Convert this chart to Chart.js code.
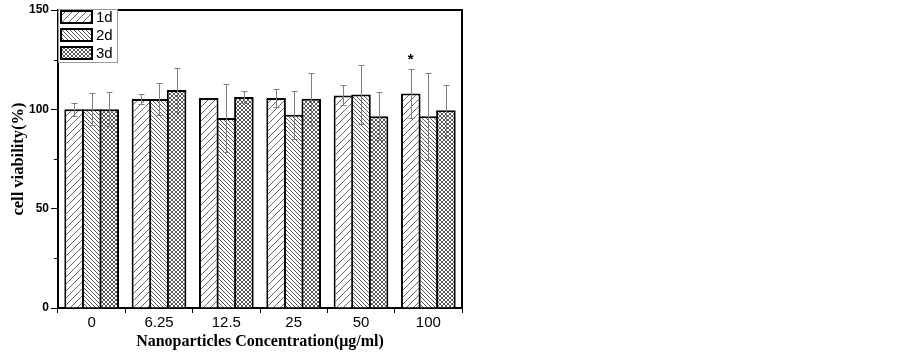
<!DOCTYPE html>
<html><head><meta charset="utf-8">
<script src="https://cdn.jsdelivr.net/npm/chart.js@4/dist/chart.umd.min.js"></script>
<style>html,body{margin:0;padding:0;background:#fff}#wrap{width:903px;height:353px;position:relative}</style>
</head><body><div id="wrap"><canvas id="c"></canvas></div>
<script>
const categories = ['0', '6.25', '12.5', '25', '50', '100'];
const seriesNames = ['1d', '2d', '3d'];
const day1 = [100, 105.2, 105.7, 105.7, 107, 108];
const day2 = [100, 105.2, 95.6, 97.3, 107.5, 96.5];
const day3 = [100, 109.7, 106.2, 105.3, 96.5, 99.5];
const err1 = [3.4, 2.7, 0, 4.5, 5, 12.4];
const err2 = [8, 8, 17, 12, 15, 22];
const err3 = [8.5, 11, 3, 13, 12, 13];
const yTickLabels = [0, 50, 100, 150];
const starMarks = [{ series: 0, index: 5, text: '*' }];

function makePattern(kind) {
  const s = kind === 'fwd' ? 7 : 4;
  const c = document.createElement('canvas');
  c.width = s; c.height = s;
  const g = c.getContext('2d');
  g.fillStyle = '#fff'; g.fillRect(0, 0, s, s);
  g.strokeStyle = kind === 'fwd' ? '#666' : '#555';
  g.lineWidth = 1;
  const fwd = () => { g.beginPath(); g.moveTo(-1, s + 1); g.lineTo(s + 1, -1); g.moveTo(-1, 1); g.lineTo(1, -1); g.moveTo(s - 1, s + 1); g.lineTo(s + 1, s - 1); g.stroke(); };
  const back = () => { g.beginPath(); g.moveTo(-1, -1); g.lineTo(s + 1, s + 1); g.moveTo(s - 1, -1); g.lineTo(s + 1, 1); g.moveTo(-1, s - 1); g.lineTo(1, s + 1); g.stroke(); };
  if (kind === 'fwd') fwd();
  else if (kind === 'back') back();
  else { fwd(); back(); }
  return c.getContext('2d').createPattern(c, 'repeat');
}
const patterns = [makePattern('fwd'), makePattern('back'), makePattern('cross')];
const values = [day1, day2, day3];
const errors = [err1, err2, err3];

const errorBarPlugin = {
  id: 'errbars',
  afterDatasetsDraw(chart) {
    const ctx = chart.ctx, y = chart.scales.y;
    ctx.save();
    ctx.strokeStyle = '#808080'; ctx.lineWidth = 1;
    values.forEach((vals, di) => {
      const meta = chart.getDatasetMeta(di);
      meta.data.forEach((bar, i) => {
        const e = errors[di][i];
        if (!e) return;
        const x = Math.round(bar.x) + 0.5;
        const yt = Math.round(y.getPixelForValue(vals[i] + e)) + 0.5;
        const yb = Math.round(y.getPixelForValue(vals[i] - e)) + 0.5;
        ctx.beginPath();
        ctx.moveTo(x, yt); ctx.lineTo(x, yb);
        ctx.moveTo(x - 3, yt); ctx.lineTo(x + 3, yt);
        ctx.moveTo(x - 3, yb); ctx.lineTo(x + 3, yb);
        ctx.stroke();
      });
    });
    ctx.fillStyle = '#000';
    ctx.font = 'bold 15px "Liberation Sans", Arial';
    ctx.textAlign = 'center'; ctx.textBaseline = 'bottom';
    starMarks.forEach(m => {
      const bar = chart.getDatasetMeta(m.series).data[m.index];
      const yt = y.getPixelForValue(values[m.series][m.index] + errors[m.series][m.index]);
      ctx.fillText(m.text, bar.x, yt - 1);
    });
    ctx.restore();
  }
};

const framePlugin = {
  id: 'frame',
  afterDraw(chart) {
    const { ctx, chartArea: a } = chart;
    const y = chart.scales.y;
    ctx.save();
    ctx.strokeStyle = '#000'; ctx.lineWidth = 2;
    ctx.beginPath();
    ctx.moveTo(a.left, a.top); ctx.lineTo(a.right, a.top); ctx.lineTo(a.right, a.bottom);
    ctx.stroke();
    ctx.lineWidth = 1;
    y.ticks.forEach(t => {
      if (yTickLabels.includes(t.value)) return;
      const py = Math.round(y.getPixelForValue(t.value)) + 0.5;
      ctx.beginPath(); ctx.moveTo(a.left - 4, py); ctx.lineTo(a.left, py); ctx.stroke();
    });
    const lx = a.left, ly = a.top - 1, lw = 59, lh = 53;
    ctx.fillStyle = '#fff';
    ctx.fillRect(lx, ly, lw, lh);
    ctx.strokeStyle = '#999'; ctx.lineWidth = 1;
    ctx.strokeRect(lx + 0.5, ly + 0.5, lw, lh);
    ctx.font = '15px "Liberation Sans", Arial';
    ctx.textBaseline = 'middle'; ctx.textAlign = 'left';
    seriesNames.forEach((n, i) => {
      const cy = ly + 8 + i * 18;
      ctx.fillStyle = patterns[i];
      ctx.fillRect(lx + 3, cy - 6, 31, 12);
      ctx.strokeStyle = '#000'; ctx.lineWidth = 2;
      ctx.strokeRect(lx + 3, cy - 6, 31, 12);
      ctx.fillStyle = '#000';
      ctx.fillText(n, lx + 38, cy + 1);
    });
    ctx.restore();
  }
};

new Chart(document.getElementById('c'), {
  type: 'bar',
  data: {
    labels: categories,
    datasets: values.map((v, i) => ({
      label: seriesNames[i],
      data: v,
      backgroundColor: patterns[i],
      borderColor: '#000',
      borderWidth: 2,
      categoryPercentage: 0.783,
      barPercentage: 1.114
    }))
  },
  options: {
    responsive: true,
    maintainAspectRatio: false,
    animation: false,
    layout: { padding: { left: 0, right: 441, top: 10, bottom: 0 } },
    plugins: { legend: { display: false }, tooltip: { enabled: false } },
    scales: {
      x: {
        grid: { display: true, drawOnChartArea: false, offset: true, color: '#000', tickLength: 5, tickWidth: 1 },
        border: { display: true, color: '#000', width: 2 },
        ticks: { color: '#000', font: { family: '"Liberation Sans", Arial', size: 15 }, padding: 1, maxRotation: 0 },
        title: { display: true, text: 'Nanoparticles Concentration(μg/ml)', color: '#000', font: { family: '"Liberation Serif", "Times New Roman"', size: 16, weight: 'bold' }, padding: { top: 0, bottom: 2 } },
        afterFit(s) { s.height = 45; }
      },
      y: {
        min: 0, max: 150,
        grid: {
          display: true, drawOnChartArea: false, tickLength: 7, tickWidth: 1,
          color: c => (c.tick && yTickLabels.includes(c.tick.value)) ? '#000' : 'rgba(0,0,0,0)'
        },
        border: { display: true, color: '#000', width: 2 },
        ticks: {
          stepSize: 25, color: '#000', padding: 2,
          font: { family: '"Liberation Sans", Arial', size: 12, weight: 'bold' },
          callback: v => yTickLabels.includes(v) ? String(v) : ''
        },
        title: { display: true, text: 'cell viability(%)', color: '#000', font: { family: '"Liberation Serif", "Times New Roman"', size: 16.5, weight: 'bold' }, padding: { top: 9, bottom: 0 } },
        afterFit(s) { s.width = 58; }
      }
    }
  },
  plugins: [errorBarPlugin, framePlugin]
});
</script></body></html>
